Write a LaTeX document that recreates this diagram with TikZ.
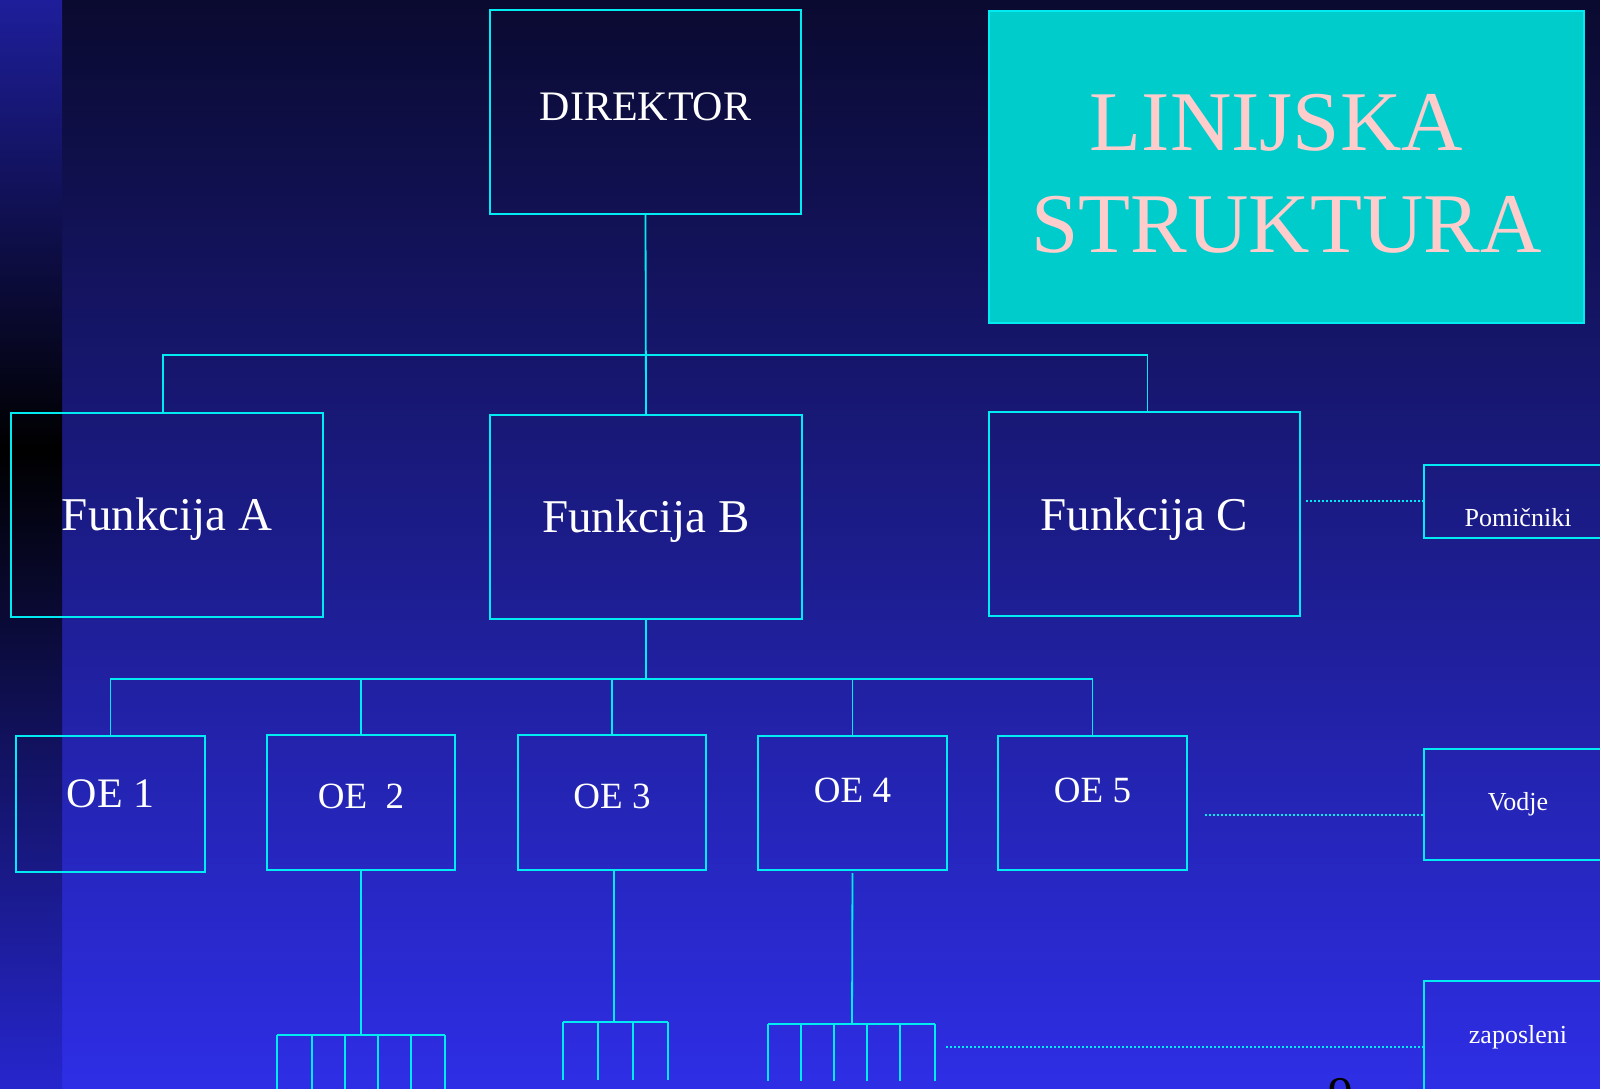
\documentclass[tikz,border=0pt]{standalone}
\usepackage{fontspec}
\setmainfont{Liberation Serif}
\definecolor{slidetop}{HTML}{0A0A30}
\definecolor{slidebot}{HTML}{2E2EE6}
\definecolor{stripblue}{HTML}{1E1E9B}
\definecolor{stripbot}{HTML}{2626CD}
\definecolor{orgline}{HTML}{00ECF2}
\definecolor{titlefill}{HTML}{00CCCC}
\definecolor{titletext}{HTML}{FFCCCC}
\tikzset{
  orgbox/.style={draw=orgline, line width=1pt, inner sep=0pt, outer sep=0pt, text=white},
  drop/.style={text height=30pt, text depth=#1},
  link/.style={draw=orgline, line width=0.9pt},
  dotlink/.style={draw=orgline, line width=0.7pt, dash pattern=on 1pt off 1pt},
}

\begin{document}
\begin{tikzpicture}[x=0.5pt,y=-0.5pt]
  \useasboundingbox (0,0) rectangle (1600,1088);
  \clip (0,0) rectangle (1600,1088);
  %% background and left strip
  \shade[top color=slidetop, bottom color=slidebot] (0,0) rectangle (1600,1088);
  \shade[top color=stripblue, bottom color=black] (0,0) rectangle (62,450);
  \shade[top color=black, bottom color=stripbot] (0,450) rectangle (62,1088);

  %% title
  \node[draw=orgline, fill=titlefill, line width=0.8pt, inner sep=0pt,
        minimum width=297.5pt, minimum height=156pt, text width=297.5pt,
        align=center, text=titletext, font=\fontsize{42.5}{51}\selectfont,
        text height=30pt, text depth=47pt] (title) at (1286.5,167)
    {\mbox{LINIJSKA\kern10pt}\\STRUKTURA};

  %% top levels
  \node[orgbox, minimum width=155.5pt, minimum height=102pt,
        font=\fontsize{21}{25}\selectfont, drop=22pt] (dir) at (645.5,112) {DIREKTOR};
  \node[orgbox, minimum width=156pt, minimum height=102pt,
        font=\fontsize{23.5}{28}\selectfont, drop=14pt] (fa) at (167,514.5) {Funkcija A};
  \node[orgbox, minimum width=156pt, minimum height=102pt,
        font=\fontsize{23.5}{28}\selectfont, drop=15pt] (fb) at (646,517) {Funkcija B};
  \node[orgbox, minimum width=155.5pt, minimum height=102pt,
        font=\fontsize{23.5}{28}\selectfont, drop=14pt] (fc) at (1144.5,514) {Funkcija C};

  %% units
  \node[orgbox, minimum width=94.5pt, minimum height=68pt,
        font=\fontsize{21}{25}\selectfont, drop=27pt] (oe1) at (110.5,804) {OE 1};
  \node[orgbox, minimum width=94pt, minimum height=67.5pt,
        font=\fontsize{18.5}{22}\selectfont, drop=24.5pt] (oe2) at (361,802.5) {OE\ \ 2};
  \node[orgbox, minimum width=94pt, minimum height=67.5pt,
        font=\fontsize{18.5}{22}\selectfont, drop=24.5pt] (oe3) at (612,802.5) {OE 3};
  \node[orgbox, minimum width=94.5pt, minimum height=67pt,
        font=\fontsize{18.5}{22}\selectfont, drop=31pt] (oe4) at (852.5,803) {OE 4};
  \node[orgbox, minimum width=94.5pt, minimum height=67pt,
        font=\fontsize{18.5}{22}\selectfont, drop=31pt] (oe5) at (1092.5,803) {OE 5};

  %% right column
  \node[orgbox, minimum width=94pt, minimum height=36.5pt,
        font=\fontsize{13}{16}\selectfont, drop=5.5pt] (pom) at (1518,501.5) {Pomičniki};
  \node[orgbox, minimum width=94pt, minimum height=55.5pt,
        font=\fontsize{13}{16}\selectfont, drop=24.5pt] (vod) at (1518,804.5) {Vodje};
  \node[orgbox, minimum width=94pt, minimum height=65pt,
        font=\fontsize{13}{16}\selectfont, drop=33pt] (zap) at (1518,1046) {zaposleni};

  \node[anchor=base, inner sep=0pt, text=black,
        font=\fontsize{25}{30}\selectfont] (pgnum) at (1340.5,1111) {9};

  %% connectors
  \coordinate (bus1) at (645.5,355);
  \draw[link] (dir.south) -- (fb.north);
  \draw[link] ([xshift=-2pt]fa.north) |- (bus1) -| ([xshift=1.5pt]fc.north);

  \coordinate (bus2) at (647,679);
  \draw[link] (fb.south) -- (fb.south |- bus2);
  \draw[link] (oe1.north) |- (bus2) -| (oe5.north);
  \foreach \n in {2,3,4}
    \draw[link] (oe\n.north) -- (oe\n.north |- bus2);

  %% staff rakes
  \coordinate (rake2) at (361,1035);
  \draw[link] (oe2.south) -- (rake2);
  \foreach \x [count=\i] in {277,312,345,378,411,445}{
    \coordinate (leg2-\i) at (\x,1035);
    \coordinate (foot2-\i) at (\x,1095);
    \draw[link] (leg2-\i) -- (foot2-\i);
  }
  \draw[link] (leg2-1) -- (leg2-6);

  \coordinate (rake3) at (614,1022);
  \draw[link] (oe3.south -| rake3) -- (rake3);
  \foreach \x [count=\i] in {563,598,633,668}{
    \coordinate (leg3-\i) at (\x,1022);
    \coordinate (foot3-\i) at (\x,1080);
    \draw[link] (leg3-\i) -- (foot3-\i);
  }
  \draw[link] (leg3-1) -- (leg3-4);

  \coordinate (rake4) at (852,1024);
  \draw[link, shorten <=1.5pt] (oe4.south) -- (rake4);
  \foreach \x [count=\i] in {768,801,834,867,900,935}{
    \coordinate (leg4-\i) at (\x,1024);
    \coordinate (foot4-\i) at (\x,1081);
    \draw[link] (leg4-\i) -- (foot4-\i);
  }
  \draw[link] (leg4-1) -- (leg4-6);

  %% dotted links to the right column
  \coordinate (pomL) at (1306,501);
  \draw[dotlink] (pomL) -- (pomL -| pom.west);
  \coordinate (vodL) at (1205,815);
  \draw[dotlink] (vodL) -- (vodL -| vod.west);
  \coordinate (zapL) at (946,1047);
  \draw[dotlink] (zapL) -- (zapL -| zap.west);
\end{tikzpicture}
\end{document}
